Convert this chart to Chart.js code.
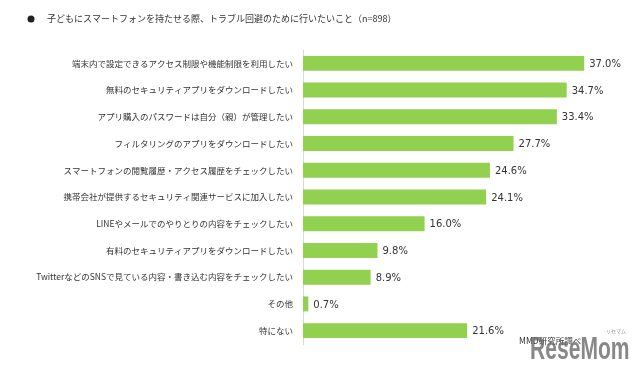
<!DOCTYPE html>
<html>
<head>
<meta charset="utf-8">
<script src="https://cdn.jsdelivr.net/npm/chart.js@4/dist/chart.umd.min.js"></script>
<style>
  html, body { margin: 0; padding: 0; background: #fff; }
  #wrap { width: 642px; height: 369px; position: relative; }
</style>
</head>
<body>
<div id="wrap"><canvas id="chart" width="642" height="369"></canvas></div>
<script>
// chart data
const titleText = '子どもにスマートフォンを持たせる際、トラブル回避のために行いたいこと（n=898）';
const categories = [
  '端末内で設定できるアクセス制限や機能制限を利用したい',
  '無料のセキュリティアプリをダウンロードしたい',
  'アプリ購入のパスワードは自分（親）が管理したい',
  'フィルタリングのアプリをダウンロードしたい',
  'スマートフォンの閲覧履歴・アクセス履歴をチェックしたい',
  '携帯会社が提供するセキュリティ関連サービスに加入したい',
  'LINEやメールでのやりとりの内容をチェックしたい',
  '有料のセキュリティアプリをダウンロードしたい',
  'TwitterなどのSNSで見ている内容・書き込む内容をチェックしたい',
  'その他',
  '特にない'
];
const values = [37.0, 34.7, 33.4, 27.7, 24.6, 24.1, 16.0, 9.8, 8.9, 0.7, 21.6];

const JP = "'Noto Sans CJK JP', 'Noto Sans', sans-serif";

// value labels to the right of each bar
const valueLabels = {
  id: 'valueLabels',
  afterDatasetsDraw(chart) {
    const ctx = chart.ctx;
    const meta = chart.getDatasetMeta(0);
    ctx.save();
    ctx.font = "10px 'DejaVu Sans', sans-serif";
    ctx.fillStyle = '#333333';
    ctx.textBaseline = 'middle';
    ctx.textAlign = 'left';
    meta.data.forEach((bar, i) => {
      ctx.fillText(values[i].toFixed(1) + '%', bar.x + 5, bar.y + 1);
    });
    ctx.restore();
  }
};

// heading with bullet, plus source note and site mark
const extras = {
  id: 'extras',
  afterDraw(chart) {
    const ctx = chart.ctx;
    ctx.save();
    ctx.textBaseline = 'middle';
    ctx.fillStyle = '#222222';
    ctx.beginPath();
    ctx.arc(31, 19, 3.5, 0, Math.PI * 2);
    ctx.fill();
    ctx.fillStyle = '#333333';
    ctx.font = '9px ' + JP;
    ctx.fillText(titleText, 47, 19);

    ctx.font = '8.5px ' + JP;
    ctx.fillText('MMD研究所調べ', 519, 341);

    ctx.globalAlpha = 0.8;
    ctx.fillStyle = '#6a6a6a';
    ctx.textBaseline = 'alphabetic';
    ctx.translate(530, 359);
    ctx.scale(0.68, 1);
    ctx.font = "bold 31px 'Liberation Sans', sans-serif";
    ctx.fillText('ReseMom', 0, 0);
    ctx.setTransform(1, 0, 0, 1, 0, 0);
    ctx.font = '5px ' + JP;
    ctx.fillText('リセマム', 606, 333);
    ctx.restore();
  }
};

new Chart(document.getElementById('chart'), {
  type: 'bar',
  data: {
    labels: categories,
    datasets: [{
      data: values,
      backgroundColor: '#92D050',
      borderWidth: 0,
      categoryPercentage: 1,
      barPercentage: 0.56
    }]
  },
  options: {
    indexAxis: 'y',
    responsive: false,
    animation: false,
    layout: { padding: { left: 0, right: 35, top: 50, bottom: 25 } },
    plugins: {
      legend: { display: false },
      tooltip: { enabled: false }
    },
    scales: {
      x: {
        display: false,
        min: 0,
        max: 40
      },
      y: {
        afterFit: s => { s.width = 303; },
        grid: { display: false, drawTicks: false },
        border: { display: true, color: '#d9d9d9', width: 1 },
        ticks: {
          padding: 10,
          color: '#333333',
          font: { size: 8.5, family: JP },
          autoSkip: false
        }
      }
    }
  },
  plugins: [valueLabels, extras]
});
</script>
</body>
</html>
